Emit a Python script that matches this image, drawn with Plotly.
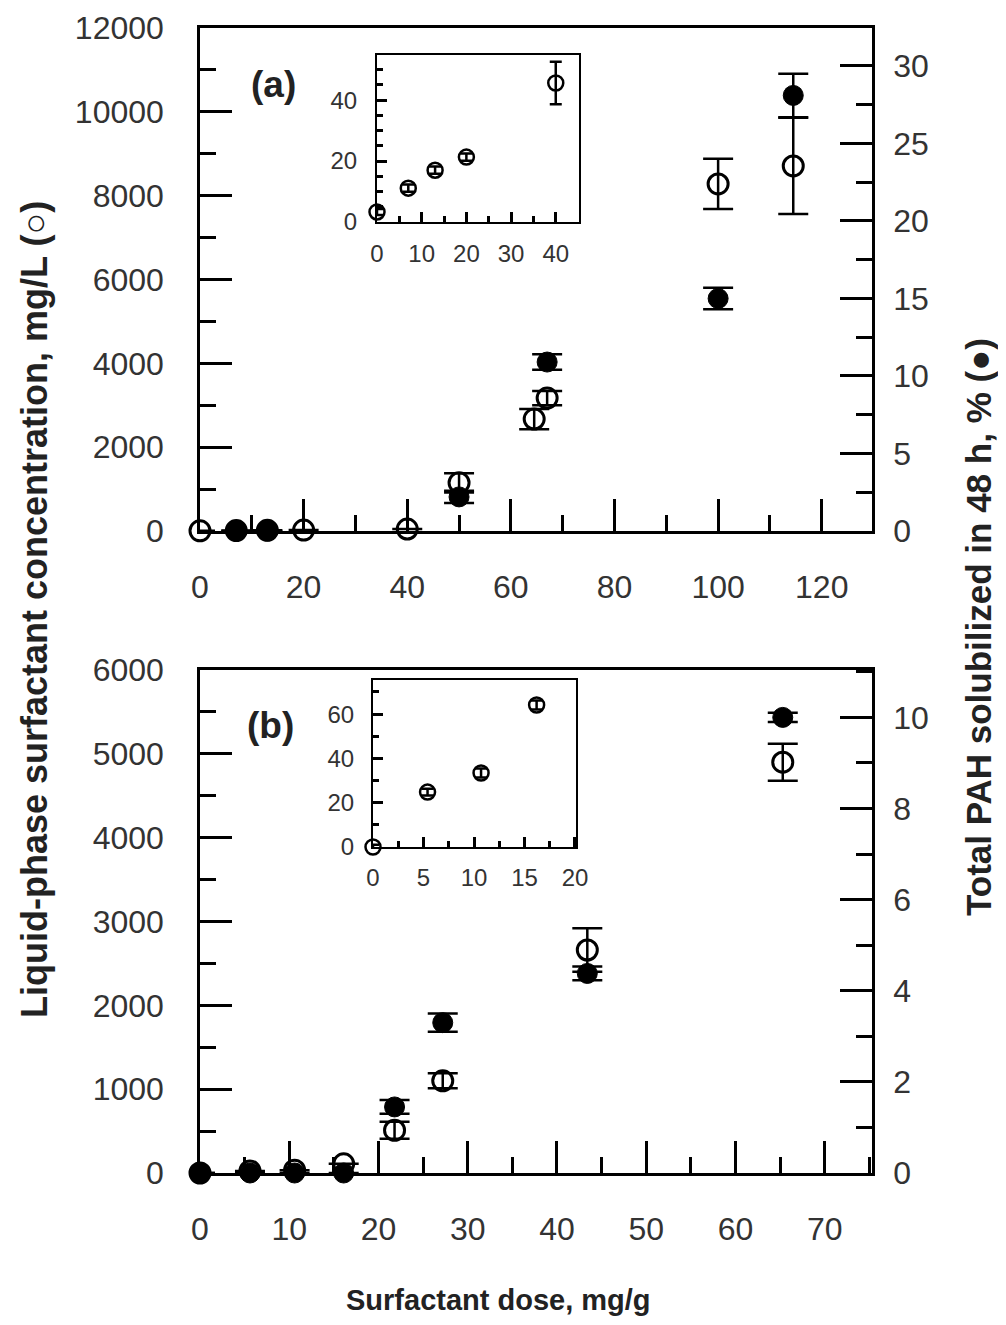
import plotly.graph_objects as go

# ---------------- data ----------------
# Panel (a)
a_open_x = [0, 7, 13, 20, 40, 50, 64.5, 67, 100, 114.5]
a_open_y = [3, 11, 17, 21, 46, 1150, 2670, 3170, 8280, 8710]
a_open_err = [0, 0, 0, 0, 0, 230, 240, 170, 600, 1150]
a_fill_x = [7, 13, 50, 67, 100, 114.5]
a_fill_y = [0, 0, 2.2, 10.9, 15.0, 28.1]
a_fill_err = [0, 0, 0.4, 0.5, 0.7, 1.4]
# inset (a)
ai_x = [0, 7, 13, 20, 40]
ai_y = [3.3, 11.1, 17.0, 21.3, 45.6]
ai_err = [1, 1.2, 1.2, 1.2, 7]

# Panel (b)
b_open_x = [0, 5.6, 10.6, 16.1, 21.8, 27.2, 43.4, 65.3]
b_open_y = [0, 25, 33, 110, 510, 1100, 2660, 4900]
b_open_err = [0, 0, 0, 0, 100, 90, 260, 220]
b_fill_x = [0, 5.6, 10.6, 16.1, 21.8, 27.2, 43.4, 65.3]
b_fill_y = [0, 0, 0, 0, 1.45, 3.3, 4.38, 10.0]
b_fill_err = [0, 0, 0, 0, 0.15, 0.2, 0.15, 0.1]
# inset (b)
bi_x = [0, 5.4, 10.7, 16.2]
bi_y = [0, 24.8, 33.4, 64.1]
bi_err = [1, 1.5, 2, 2]

left_title = "Liquid-phase surfactant concentration, mg/L (○)"
right_title = "Total PAH solubilized in 48 h, % (●)"
x_title = "Surfactant dose, mg/g"

# page body has an 8px default margin -> figure is sized to fit the window
OFF = 8
W, H = 1006 - 2 * OFF, 1325 - 2 * OFF
FONT = "Liberation Sans, Arial, sans-serif"
TICKC = "#333333"


def px_x(p):
    return (p - OFF) / W


def px_y(p):
    return 1 - (p - OFF) / H


fig = go.Figure()

open_marker = dict(symbol="circle-open", size=20, color="black", line=dict(width=3, color="black"))
fill_marker = dict(symbol="circle", size=20, color="black", line=dict(width=1, color="black"))


def err(vals, w=15):
    return dict(type="data", array=vals, visible=True, color="black", thickness=2.5, width=w)


# Panel (a)
fig.add_trace(go.Scatter(x=a_open_x, y=a_open_y, mode="markers", marker=open_marker,
                         error_y=err(a_open_err), xaxis="x", yaxis="y", cliponaxis=False))
fig.add_trace(go.Scatter(x=a_fill_x, y=a_fill_y, mode="markers", marker=fill_marker,
                         error_y=err(a_fill_err), xaxis="x", yaxis="y2", cliponaxis=False))
# Panel (b)
fig.add_trace(go.Scatter(x=b_open_x, y=b_open_y, mode="markers", marker=open_marker,
                         error_y=err(b_open_err), xaxis="x2", yaxis="y3", cliponaxis=False))
fig.add_trace(go.Scatter(x=b_fill_x, y=b_fill_y, mode="markers", marker=fill_marker,
                         error_y=err(b_fill_err), xaxis="x2", yaxis="y4", cliponaxis=False))
# insets
inset_marker = dict(symbol="circle-open", size=15, color="black", line=dict(width=2.5, color="black"))
fig.add_trace(go.Scatter(x=ai_x, y=ai_y, mode="markers", marker=inset_marker,
                         error_y=err(ai_err, 6), xaxis="x3", yaxis="y5", cliponaxis=False))
fig.add_trace(go.Scatter(x=bi_x, y=bi_y, mode="markers", marker=inset_marker,
                         error_y=err(bi_err, 6), xaxis="x4", yaxis="y6", cliponaxis=False))

tickfont = dict(family=FONT, size=32, color=TICKC)
insetfont = dict(family=FONT, size=24, color=TICKC)

main_xdom = [px_x(200), px_x(872)]
a_ydom = [px_y(531), px_y(28)]
b_ydom = [px_y(1173), px_y(670)]


def xax(dom, anchor, rng, dtick, mdtick, font=tickfont, tl=32, mtl=16, lw=2.5, standoff=26):
    return dict(domain=dom, anchor=anchor, range=rng, dtick=dtick, tick0=0,
                ticks="inside", ticklen=tl, tickwidth=2.5, tickcolor="black",
                minor=dict(dtick=mdtick, tick0=0, ticks="inside", ticklen=mtl, tickwidth=2.5, tickcolor="black"),
                showline=True, linecolor="black", linewidth=lw, mirror=True,
                showgrid=False, zeroline=False, tickfont=font, ticklabelstandoff=standoff,
                automargin=False, tickformat="d")


def yax(dom, anchor, rng, dtick, mdtick, side="left", overlaying=None, font=tickfont,
        tl=32, mtl=16, standoff=27, lw=2.5, mirror=True, showline=True):
    d = dict(domain=dom, anchor=anchor, range=rng, dtick=dtick, tick0=0, side=side,
             ticks="inside", ticklen=tl, tickwidth=2.5, tickcolor="black",
             minor=dict(dtick=mdtick, tick0=0, ticks="inside", ticklen=mtl, tickwidth=2.5, tickcolor="black"),
             showline=showline, linecolor="black", linewidth=lw, mirror=mirror,
             showgrid=False, zeroline=False, tickfont=font, ticklabelstandoff=standoff,
             automargin=False, tickformat="d")
    if overlaying:
        d["overlaying"] = overlaying
        d.pop("domain")
    return d


fig.update_layout(
    width=W, height=H,
    margin=dict(l=0, r=0, t=0, b=0, autoexpand=False),
    paper_bgcolor="white", plot_bgcolor="white",
    showlegend=False,
    font=dict(family=FONT, color="black"),
    xaxis=xax(main_xdom, "y", [0, 129.7], 20, 10),
    yaxis=yax(a_ydom, "x", [0, 12000], 2000, 1000),
    yaxis2=yax(a_ydom, "x", [0, 32.45], 5, 2.5, side="right", overlaying="y",
               standoff=12, mirror=False),
    xaxis2=xax(main_xdom, "y3", [0, 75.3], 10, 5),
    yaxis3=yax(b_ydom, "x2", [0, 6000], 1000, 500),
    yaxis4=yax(b_ydom, "x2", [0, 11.04], 2, 1, side="right", overlaying="y3",
               standoff=12, mirror=False),
    xaxis3=xax([px_x(377), px_x(579)], "y5", [0, 45.2], 10, 5, font=insetfont, tl=10, mtl=6,
               lw=2, standoff=9),
    yaxis5=yax([px_y(222), px_y(55)], "x3", [0, 54.8], 20, 5, font=insetfont, tl=10, mtl=6,
               standoff=13, lw=2),
    xaxis4=xax([px_x(373), px_x(576)], "y6", [0, 20.1], 5, 2.5, font=insetfont, tl=10, mtl=6,
               lw=2, standoff=8),
    yaxis6=yax([px_y(847), px_y(680)], "x4", [0, 75.4], 20, 10, font=insetfont, tl=10, mtl=6,
               standoff=12, lw=2),
)

TITLEC = "#222222"
annotations = [
    dict(text="<b>" + left_title + "</b>", x=px_x(34), y=px_y(610), xref="paper", yref="paper",
         textangle=-90, showarrow=False, font=dict(family=FONT, size=36, color=TITLEC),
         xanchor="center", yanchor="middle"),
    dict(text="<b>" + right_title + "</b>", x=px_x(979), y=px_y(627), xref="paper", yref="paper",
         textangle=-90, showarrow=False, font=dict(family=FONT, size=35, color=TITLEC),
         xanchor="center", yanchor="middle"),
    dict(text="<b>" + x_title + "</b>", x=px_x(498), y=px_y(1300), xref="paper", yref="paper",
         showarrow=False, font=dict(family=FONT, size=29, color=TITLEC),
         xanchor="center", yanchor="middle"),
    dict(text="<b>(a)</b>", x=px_x(273), y=px_y(84), xref="paper", yref="paper",
         showarrow=False, font=dict(family=FONT, size=37, color=TITLEC),
         xanchor="center", yanchor="middle"),
    dict(text="<b>(b)</b>", x=px_x(270), y=px_y(725), xref="paper", yref="paper",
         showarrow=False, font=dict(family=FONT, size=37, color=TITLEC),
         xanchor="center", yanchor="middle"),
]
fig.update_layout(annotations=annotations)

fig.write_html("out.html")
